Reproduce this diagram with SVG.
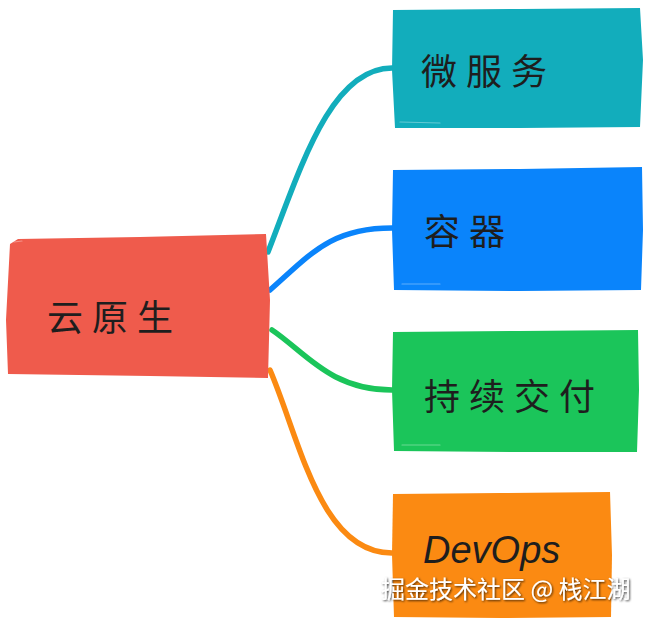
<svg xmlns="http://www.w3.org/2000/svg" width="650" height="618" viewBox="0 0 650 618">
<defs>
<style>
.lbl{font-family:"Noto Sans CJK SC","Noto Sans",sans-serif;font-size:36px;fill:#1e1e1e;letter-spacing:9px}
.edge{fill:none;stroke-width:5.5;stroke-linecap:round}
.streak{fill:none;stroke:#ffffff;stroke-opacity:0.35;stroke-width:1.2;stroke-linecap:round}
.wm{font-family:"Noto Sans CJK SC","Noto Sans",sans-serif;font-size:24px;fill:#ffffff}
</style>
<filter id="sh" x="-5%" y="-30%" width="110%" height="160%">
<feDropShadow dx="1" dy="1" stdDeviation="0.8" flood-color="#000000" flood-opacity="0.75"/>
</filter>
</defs>
<rect width="650" height="618" fill="#ffffff"/>
<g id="connectors">
<path class="edge" stroke="#12adbc" d="M268,252 C300,170 330,68 392,68"/>
<path class="edge" stroke="#0a84fb" d="M270,290 C310,255 330,228 392,228"/>
<path class="edge" stroke="#1bc55a" d="M272,330 C305,352 330,390 392,390"/>
<path class="edge" stroke="#fb8a12" d="M270,370 C300,440 320,553 392,553"/>
</g>
<g id="node-root">
<path fill="#ef5b4c" d="M10,244 L18,239 L140,237 L266,234 L270,300 L268,378 L150,376 L8,374 L6,320 Z"/>
<path class="streak" d="M14,242 L22,241"/>
<text class="lbl" x="47" y="331" letter-spacing="13">云原生</text>
</g>
<g id="node-microservice">
<path fill="#12adbc" d="M393,10 L520,9 L640,8 L643,60 L640,127 L520,128 L395,128 L392,70 Z"/>
<path class="streak" d="M400,122 L440,123"/>
<text class="lbl" x="421" y="85">微服务</text>
</g>
<g id="node-container">
<path fill="#0a84fb" d="M393,170 L520,169 L642,167 L643,230 L641,290 L520,291 L394,290 L392,230 Z"/>
<path class="streak" d="M402,284 L440,284"/>
<text class="lbl" x="424" y="245">容器</text>
</g>
<g id="node-cd">
<path fill="#1bc55a" d="M393,332 L520,331 L638,330 L639,390 L637,452 L520,452 L394,451 L392,390 Z"/>
<path class="streak" d="M402,445 L440,445"/>
<text class="lbl" x="424" y="410" letter-spacing="8">持续交付</text>
</g>
<g id="node-devops">
<path fill="#fb8a12" d="M393,494 L500,493 L610,492 L612,555 L611,617 L500,618 L394,617 L392,555 Z"/>
<text x="423" y="563" font-family="Liberation Sans, sans-serif" font-style="italic" font-size="38" fill="#1e1e1e">DevOps</text>
</g>
<text class="wm" x="381" y="598" filter="url(#sh)">掘金技术社区 @ 栈江湖</text>
</svg>
